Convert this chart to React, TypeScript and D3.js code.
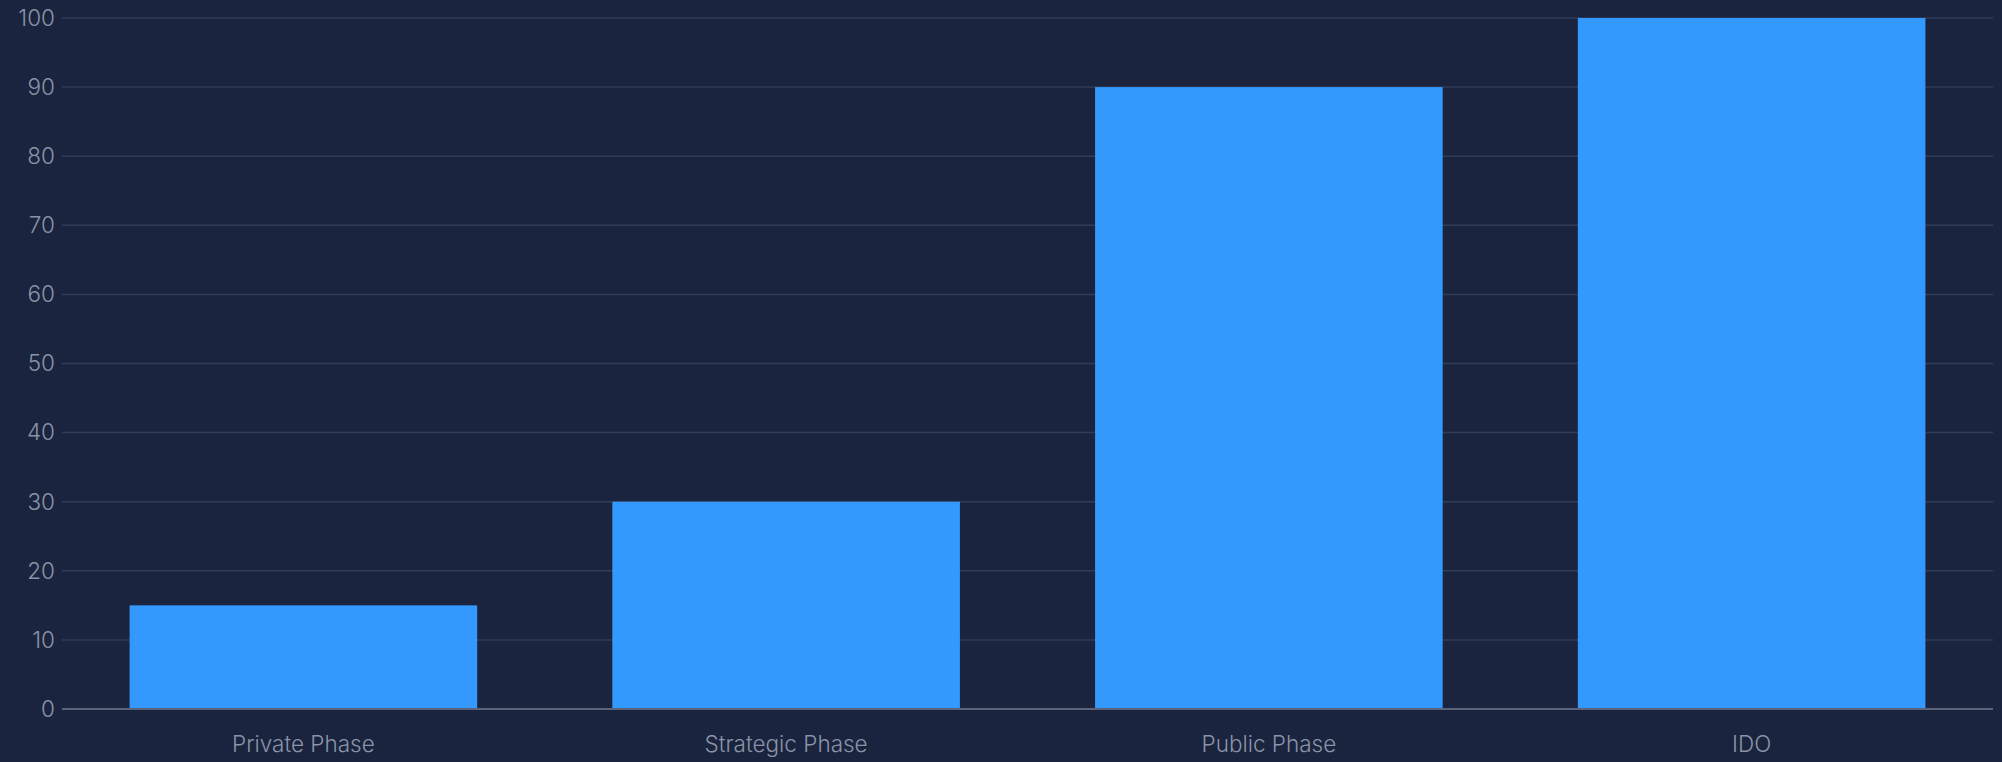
import React from "react";
import * as d3 from "d3";

const categories = ["Private Phase", "Strategic Phase", "Public Phase", "IDO"];
const values = [15, 30, 90, 100];
const yTicks = [0, 10, 20, 30, 40, 50, 60, 70, 80, 90, 100];

const W = 2002;
const H = 762;
const left = 62;
const right = 1993;
const top = 18;
const bottom = 709;

export default function App() {
  const x = d3.scaleBand<string>().domain(categories).range([left, right]).paddingInner(0.28).paddingOuter(0.14);
  const y = d3.scaleLinear().domain([0, 100]).range([bottom, top]);
  const font = "Inter, 'Noto Sans', sans-serif";
  return (
    <svg width={W} height={H} style={{ position: "absolute", left: 0, top: 0, display: "block" }}>
      <rect x={0} y={0} width={W} height={H} fill="#1a243e" />
      {yTicks.map((t) => (
        <g key={t}>
          {t !== 0 && (
            <line x1={left} x2={right} y1={y(t)} y2={y(t)} stroke="#303c58" strokeWidth={1.5} />
          )}
          <text x={55} y={y(t)} dy="0.35em" textAnchor="end" fill="#8a93a7" fontSize={22.5} fontWeight={300} fontFamily={font}>
            {t}
          </text>
        </g>
      ))}
      {categories.map((c, i) => (
        <rect key={c} x={x(c)} y={y(values[i])} width={x.bandwidth()} height={y(0) - y(values[i])} fill="#3399ff" />
      ))}
      <line x1={left} x2={right} y1={y(0)} y2={y(0)} stroke="#5a6378" strokeWidth={2} />
      {categories.map((c) => (
        <text key={c} x={(x(c) as number) + x.bandwidth() / 2} y={752} textAnchor="middle" fill="#8a93a7" fontSize={22.5} fontWeight={300} fontFamily={font}>
          {c}
        </text>
      ))}
    </svg>
  );
}
